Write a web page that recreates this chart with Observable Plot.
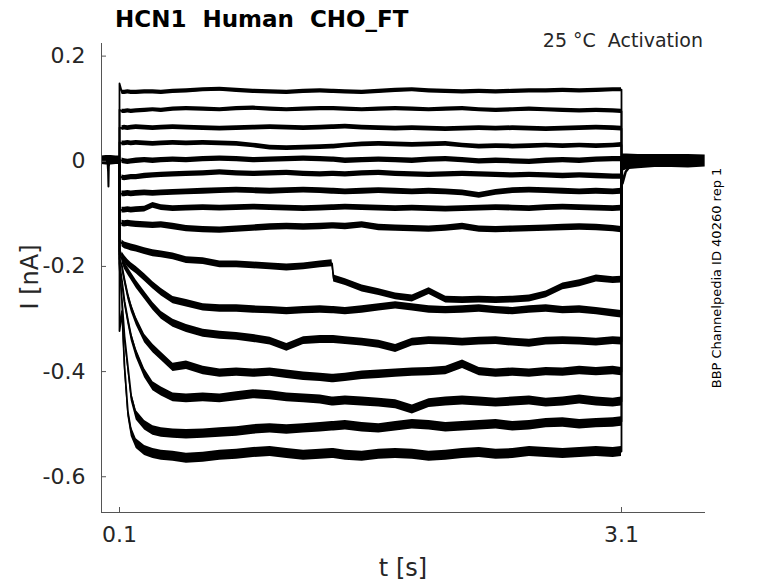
<!DOCTYPE html>
<html><head><meta charset="utf-8">
<script src="https://cdn.jsdelivr.net/npm/d3@7"></script>
<script src="https://cdn.jsdelivr.net/npm/@observablehq/plot@0.6"></script>
<style>
html,body{margin:0;padding:0;background:#fff;}
#chart{position:relative;width:778px;height:583px;}
</style></head><body><div id="chart"></div>
<script>
// ---- data (time in s, current in nA) ----
const stepTimes = [0.1,0.115,0.13,0.15,0.17,0.2,0.25,0.3,0.35,0.42,0.5,0.6,0.7,0.8,0.9,1.0,1.1,1.2,1.3,1.37,1.38,1.45,1.55,1.65,1.75,1.85,1.95,2.05,2.15,2.25,2.35,2.45,2.55,2.65,2.75,2.85,2.95,3.05,3.1];
const sweep01 = [0.148,0.131,0.131,0.132,0.131,0.131,0.132,0.132,0.131,0.133,0.134,0.136,0.137,0.135,0.133,0.132,0.131,0.133,0.134,0.133,0.133,0.132,0.131,0.133,0.135,0.136,0.134,0.133,0.132,0.133,0.132,0.133,0.134,0.134,0.135,0.134,0.135,0.136,0.136];
const sweep02 = [0.098,0.095,0.095,0.096,0.095,0.096,0.097,0.098,0.097,0.099,0.100,0.099,0.098,0.100,0.101,0.099,0.098,0.099,0.100,0.100,0.100,0.099,0.098,0.099,0.100,0.099,0.098,0.099,0.100,0.098,0.097,0.098,0.099,0.098,0.097,0.096,0.097,0.096,0.095];
const sweep03 = [0.064,0.063,0.064,0.063,0.064,0.065,0.064,0.063,0.064,0.065,0.064,0.063,0.062,0.063,0.064,0.065,0.064,0.063,0.064,0.065,0.065,0.066,0.064,0.063,0.062,0.063,0.062,0.061,0.062,0.063,0.062,0.063,0.062,0.061,0.062,0.063,0.064,0.063,0.062];
const sweep04 = [0.036,0.034,0.034,0.035,0.034,0.035,0.034,0.033,0.034,0.035,0.034,0.035,0.034,0.033,0.030,0.026,0.025,0.026,0.027,0.028,0.028,0.030,0.032,0.033,0.032,0.031,0.032,0.033,0.030,0.028,0.029,0.028,0.029,0.030,0.029,0.030,0.029,0.030,0.031];
const sweep05 = [0.003,0.001,0.000,-0.001,0.000,0.001,0.002,0.001,0.002,0.003,0.002,0.004,0.005,0.004,0.002,0.003,0.004,0.005,0.004,0.003,0.003,0.001,0.002,0.003,0.002,0.001,0.003,0.004,0.002,0.000,0.001,0.000,-0.001,0.001,0.002,0.001,0.003,0.004,0.004];
const sweep06 = [-0.028,-0.031,-0.032,-0.031,-0.030,-0.030,-0.028,-0.027,-0.026,-0.025,-0.024,-0.023,-0.021,-0.023,-0.024,-0.023,-0.022,-0.024,-0.025,-0.024,-0.024,-0.025,-0.023,-0.022,-0.024,-0.025,-0.026,-0.025,-0.024,-0.025,-0.026,-0.027,-0.026,-0.027,-0.028,-0.027,-0.028,-0.029,-0.029];
const sweep07 = [-0.061,-0.062,-0.062,-0.061,-0.062,-0.061,-0.060,-0.061,-0.060,-0.059,-0.058,-0.057,-0.056,-0.055,-0.056,-0.057,-0.056,-0.055,-0.056,-0.057,-0.057,-0.058,-0.057,-0.056,-0.057,-0.058,-0.057,-0.058,-0.060,-0.065,-0.059,-0.056,-0.055,-0.056,-0.057,-0.058,-0.057,-0.058,-0.057];
const sweep08 = [-0.092,-0.093,-0.093,-0.092,-0.093,-0.092,-0.091,-0.084,-0.088,-0.090,-0.089,-0.088,-0.089,-0.088,-0.087,-0.088,-0.089,-0.090,-0.089,-0.088,-0.088,-0.087,-0.088,-0.089,-0.090,-0.089,-0.090,-0.091,-0.090,-0.089,-0.088,-0.089,-0.090,-0.088,-0.087,-0.088,-0.089,-0.090,-0.089];
const sweep09 = [-0.118,-0.118,-0.119,-0.118,-0.119,-0.120,-0.121,-0.122,-0.121,-0.124,-0.128,-0.130,-0.131,-0.129,-0.127,-0.125,-0.124,-0.125,-0.124,-0.123,-0.123,-0.124,-0.121,-0.126,-0.127,-0.128,-0.129,-0.127,-0.124,-0.129,-0.130,-0.129,-0.128,-0.127,-0.126,-0.125,-0.126,-0.128,-0.130];
const sweep10 = [-0.152,-0.156,-0.160,-0.162,-0.164,-0.166,-0.171,-0.175,-0.177,-0.181,-0.188,-0.190,-0.196,-0.196,-0.198,-0.200,-0.202,-0.200,-0.196,-0.194,-0.223,-0.230,-0.242,-0.249,-0.257,-0.261,-0.247,-0.263,-0.264,-0.263,-0.264,-0.263,-0.261,-0.253,-0.238,-0.232,-0.223,-0.226,-0.225];
const sweep11 = [-0.171,-0.179,-0.186,-0.194,-0.200,-0.207,-0.221,-0.236,-0.249,-0.264,-0.270,-0.278,-0.280,-0.280,-0.282,-0.283,-0.285,-0.283,-0.282,-0.283,-0.283,-0.285,-0.282,-0.278,-0.274,-0.278,-0.282,-0.283,-0.282,-0.280,-0.283,-0.285,-0.282,-0.280,-0.283,-0.282,-0.285,-0.289,-0.291];
const sweep12 = [-0.177,-0.186,-0.198,-0.209,-0.219,-0.234,-0.255,-0.276,-0.293,-0.308,-0.318,-0.327,-0.331,-0.333,-0.337,-0.342,-0.354,-0.341,-0.339,-0.339,-0.339,-0.341,-0.344,-0.348,-0.356,-0.344,-0.341,-0.342,-0.344,-0.342,-0.341,-0.344,-0.346,-0.342,-0.341,-0.342,-0.344,-0.341,-0.342];
const sweep13 = [-0.186,-0.200,-0.225,-0.255,-0.278,-0.304,-0.337,-0.356,-0.371,-0.392,-0.388,-0.398,-0.403,-0.401,-0.403,-0.401,-0.405,-0.409,-0.411,-0.413,-0.413,-0.411,-0.407,-0.405,-0.403,-0.401,-0.400,-0.398,-0.386,-0.400,-0.403,-0.401,-0.403,-0.400,-0.401,-0.398,-0.400,-0.398,-0.400];
const sweep14 = [-0.194,-0.228,-0.266,-0.301,-0.333,-0.365,-0.403,-0.428,-0.438,-0.449,-0.451,-0.449,-0.451,-0.447,-0.443,-0.445,-0.449,-0.451,-0.453,-0.457,-0.457,-0.455,-0.457,-0.459,-0.462,-0.472,-0.460,-0.457,-0.455,-0.457,-0.459,-0.457,-0.455,-0.459,-0.457,-0.453,-0.457,-0.459,-0.457];
const sweep15 = [-0.200,-0.266,-0.333,-0.390,-0.447,-0.483,-0.502,-0.512,-0.516,-0.518,-0.519,-0.518,-0.516,-0.514,-0.510,-0.508,-0.510,-0.508,-0.506,-0.504,-0.504,-0.502,-0.506,-0.508,-0.504,-0.500,-0.502,-0.506,-0.504,-0.502,-0.500,-0.504,-0.502,-0.498,-0.497,-0.500,-0.498,-0.497,-0.495];
const sweep16 = [-0.323,-0.285,-0.390,-0.476,-0.514,-0.537,-0.550,-0.556,-0.559,-0.561,-0.565,-0.563,-0.559,-0.557,-0.554,-0.552,-0.556,-0.559,-0.557,-0.556,-0.556,-0.559,-0.561,-0.557,-0.556,-0.557,-0.561,-0.559,-0.556,-0.554,-0.557,-0.556,-0.552,-0.554,-0.556,-0.554,-0.552,-0.554,-0.552];
// recording noise (half peak-to-peak, nA) of each sweep
const sweepNoise = [0.004,0.004,0.0045,0.0045,0.005,0.005,0.0055,0.0055,0.006,0.0065,0.007,0.0075,0.008,0.0085,0.009,0.0095];
const holdLevel = 0;
// holding current before/after the step (all sweeps overlap there)
const preTimes  = [-0.007,0.02,0.05,0.08,0.1];
const preUpper  = [0.010,0.011,0.011,0.010,0.010];
const preLower  = [-0.006,-0.007,-0.007,-0.006,-0.006];
const spikeTimes  = [0.028,0.032,0.034,0.036,0.040];
const spikeValues = [0.000,-0.020,-0.048,-0.010,0.000];
const postTimes = [3.1,3.13,3.2,3.3,3.4,3.5,3.6];
const postUpper = [0.014,0.014,0.013,0.013,0.013,0.013,0.012];
const postLower = [-0.020,-0.016,-0.014,-0.012,-0.012,-0.013,-0.011];
const tailTimes  = [3.1,3.106,3.125,3.15];
const tailValues = [-0.005,-0.042,-0.020,-0.010];
const xTicks = [0.1, 3.1];
const yTicks = [-0.6, -0.4, -0.2, 0, 0.2];
const xDomain = [-0.0076, 3.602];
const yDomain = [-0.668, 0.224];

const sweeps = [sweep01,sweep02,sweep03,sweep04,sweep05,sweep06,sweep07,sweep08,sweep09,sweep10,sweep11,sweep12,sweep13,sweep14,sweep15,sweep16];

// ---- styles ----
const axisGray = "#555";
const textColor = "#262626";

const lastT = stepTimes[stepTimes.length - 1];
const sweepRows = sweeps.map(vals => [
  {t: stepTimes[0], i: holdLevel},
  ...vals.map((v, j) => ({t: stepTimes[j], i: v})),
  {t: lastT, i: holdLevel}
]);
const bandRows = sweeps.map((vals, k) => vals.slice(1).map((v, j) => ({t: stepTimes[j + 1], lo: v - sweepNoise[k], hi: v + sweepNoise[k]})));
const preRows = preTimes.map((t, j) => ({t, lo: preLower[j], hi: preUpper[j]}));
const postRows = postTimes.map((t, j) => ({t, lo: postLower[j], hi: postUpper[j]}));
const spikeRows = spikeTimes.map((t, j) => ({t, i: spikeValues[j]}));
const tailRows = tailTimes.map((t, j) => ({t, i: tailValues[j]}));

const fmt = d => String(d);

const plot = Plot.plot({
  width: 778, height: 583,
  marginLeft: 101, marginRight: 73, marginTop: 43, marginBottom: 71,
  style: {fontFamily: "DejaVu Sans", background: "#fff", color: textColor},
  x: {domain: xDomain, label: null},
  y: {domain: yDomain, label: null},
  marks: [
    Plot.areaY(preRows, {x: "t", y1: "lo", y2: "hi", fill: "#000"}),
    Plot.areaY(postRows, {x: "t", y1: "lo", y2: "hi", fill: "#000"}),
    Plot.line(spikeRows, {x: "t", y: "i", stroke: "#000", strokeWidth: 2}),
    Plot.line(tailRows, {x: "t", y: "i", stroke: "#000", strokeWidth: 2.5}),
    ...bandRows.map(rows => Plot.areaY(rows, {x: "t", y1: "lo", y2: "hi", fill: "#000"})),
    ...sweepRows.map(rows => Plot.line(rows, {x: "t", y: "i", stroke: "#000", strokeWidth: 1.8, strokeLinejoin: "round"})),
    Plot.ruleX([xDomain[0]], {stroke: axisGray, strokeWidth: 1}),
    Plot.ruleY([yDomain[0]], {stroke: axisGray, strokeWidth: 1}),
    Plot.axisY({ticks: yTicks, tickFormat: fmt, tickSize: -5, tickPadding: 21, fontSize: 22, stroke: axisGray, fill: textColor}),
    Plot.axisX({ticks: xTicks, tickFormat: fmt, tickSize: -5, tickPadding: 19, fontSize: 22, stroke: axisGray, fill: textColor})
  ]
});
document.getElementById("chart").appendChild(plot);

const svg = d3.select(plot);
function addText(txt, attrs) {
  const el = svg.append("text").text(txt).style("white-space", "pre")
    .attr("font-family", "DejaVu Sans").attr("text-anchor", "start");
  for (const [k, v] of Object.entries(attrs)) el.attr(k, v);
  return el;
}
addText("HCN1  Human  CHO_FT", {x: 115, y: 27, "font-size": 23, "font-weight": "bold", fill: "#000"});
addText("25 °C  Activation", {x: 703, y: 47, "font-size": 19, "text-anchor": "end", fill: textColor});
addText("I [nA]", {transform: "translate(38,277) rotate(-90)", "font-size": 24, "text-anchor": "middle", fill: textColor});
addText("t [s]", {x: 403, y: 576, "font-size": 24, "text-anchor": "middle", fill: textColor});
addText("BBP Channelpedia ID 40260 rep 1", {transform: "translate(721,278) rotate(-90)", "font-size": 13, "text-anchor": "middle", fill: "#000"});
</script></body></html>
